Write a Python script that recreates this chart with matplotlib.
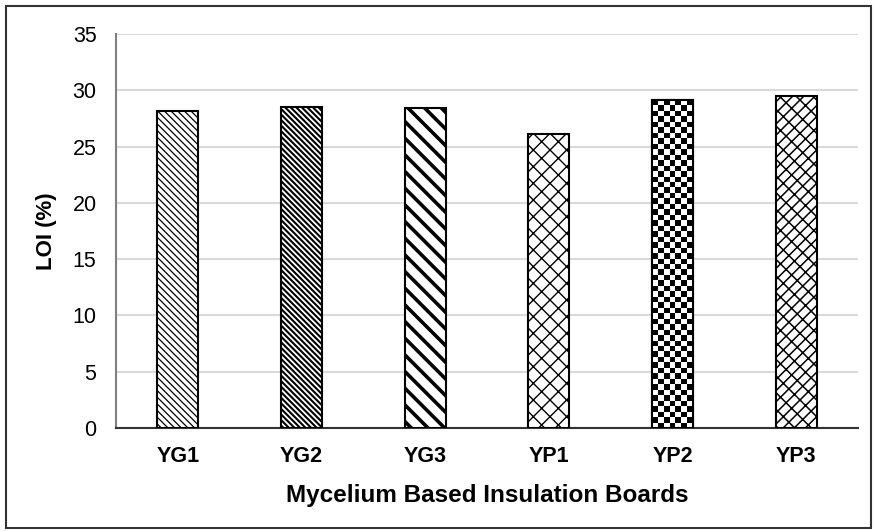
import matplotlib
matplotlib.use("Agg")
import matplotlib.pyplot as plt
import numpy as np
from matplotlib.patches import Rectangle

categories = ["YG1", "YG2", "YG3", "YP1", "YP2", "YP3"]
loi_values = [28.2, 28.55, 28.4, 26.1, 29.1, 29.5]
y_ticks = [0, 5, 10, 15, 20, 25, 30, 35]
hatches = ["\\\\\\\\\\", "\\\\\\\\\\\\", "\\\\", "xx", None, "///\\\\"]
hatch_lws = [0.9, 1.5, 2.6, 1.0, 1.0, 1.1]

plt.rcParams['font.family'] = ['Liberation Sans', 'DejaVu Sans']

fig = plt.figure(figsize=(8.74, 5.31), dpi=100)
ax = fig.add_axes([0.1327, 0.194, 0.849, 0.742])

# outer frame
fig.patches.append(Rectangle((0.007, 0.006), 0.989, 0.983, transform=fig.transFigure,
                             fill=False, edgecolor='#333333', linewidth=1.5))

x = np.arange(len(categories))
bars = []
for i, (v, h, lw) in enumerate(zip(loi_values, hatches, hatch_lws)):
    with plt.rc_context({'hatch.linewidth': lw, 'hatch.color': 'black'}):
        b = ax.bar(x[i], v, width=0.33, facecolor='white', edgecolor='black',
                   linewidth=1.5, hatch=h, zorder=3)
    bars.append(b[0])

ax.set_xlim(-0.5, len(categories) - 0.5)
ax.set_ylim(0, 35)
ax.set_yticks(y_ticks)
ax.set_xticks(x)
ax.set_xticklabels(categories, fontsize=15.5, fontweight='bold')
ax.tick_params(axis='y', labelsize=15.5, length=0, pad=14)
ax.tick_params(axis='x', length=0, pad=13)
ax.yaxis.grid(True, color='#d9d9d9', linewidth=1.5, zorder=0)
ax.set_axisbelow(True)
for s in ['top', 'right']:
    ax.spines[s].set_visible(False)
ax.spines['left'].set_color('#7f7f7f')
ax.spines['left'].set_linewidth(1.5)
ax.spines['bottom'].set_color('#333333')
ax.spines['bottom'].set_linewidth(1.5)

ax.set_ylabel("LOI (%)", fontsize=16, fontweight='bold', labelpad=11)
ax.set_xlabel("Mycelium Based Insulation Boards", fontsize=17.5, fontweight='bold', labelpad=12)

# checkerboard fill for YP2
fig.canvas.draw()
bp = bars[4]
x0, x1 = bp.get_x(), bp.get_x() + bp.get_width()
y0, y1 = 0, bp.get_height()
p0 = ax.transData.transform((x0, y0))
p1 = ax.transData.transform((x1, y1))
sq = 5.5
ncol = max(1, int(round((p1[0] - p0[0]) / sq)))
nrow = max(1, int(round((p1[1] - p0[1]) / sq)))
checker = (np.add.outer(np.arange(nrow), np.arange(ncol)) % 2).astype(float)
im = ax.imshow(checker, cmap='gray', extent=(x0, x1, y0, y1), aspect='auto',
               interpolation='nearest', zorder=3.2)
im.set_clip_path(bp)
ax.bar(x[4], loi_values[4], width=0.33, fill=False, edgecolor='black',
       linewidth=1.5, zorder=3.5)
ax.set_xlim(-0.5, len(categories) - 0.5)
ax.set_ylim(0, 35)

fig.savefig("out.png", dpi=100)
